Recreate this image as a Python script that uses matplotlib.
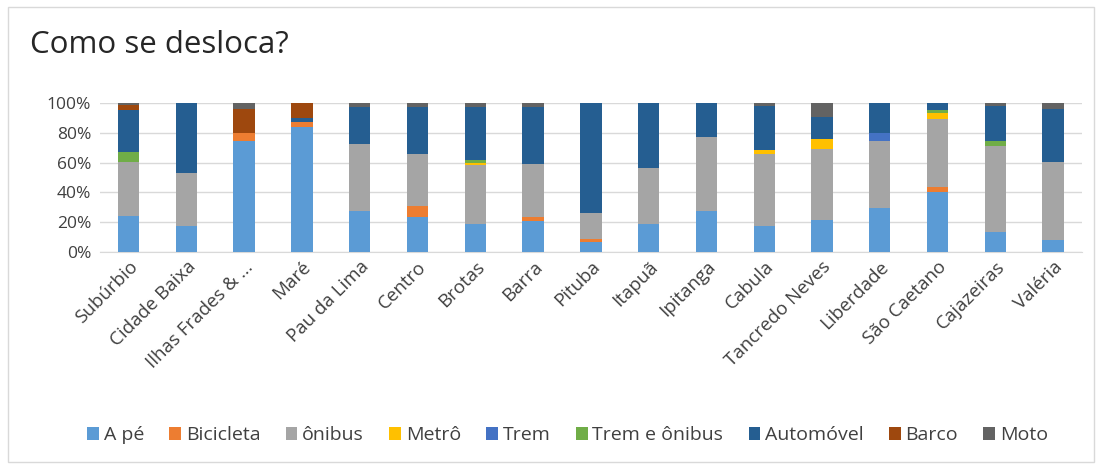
import matplotlib.pyplot as plt
from matplotlib.patches import Rectangle
import numpy as np

plt.rcParams['font.family'] = ['Open Sans', 'DejaVu Sans']

bairros = ['Subúrbio', 'Cidade Baixa', 'Ilhas Frades & ...', 'Maré', 'Pau da Lima',
           'Centro', 'Brotas', 'Barra', 'Pituba', 'Itapuã', 'Ipitanga', 'Cabula',
           'Tancredo Neves', 'Liberdade', 'São Caetano', 'Cajazeiras', 'Valéria']

# percentuais por modo de deslocamento
a_pe        = [24, 17.6, 74.6, 83.5, 27.8, 23.8, 18.7, 21.2, 7.1, 18.9, 27.8, 17.8, 21.6, 29.4, 40.5, 13.4, 8.2]
bicicleta   = [0, 0, 5.4, 3.3, 0, 6.9, 0, 2.6, 1.8, 0, 0, 0, 0, 0, 2.9, 0, 0]
onibus      = [36.4, 35.2, 0, 0, 44.4, 35.0, 39.7, 35.2, 17.6, 37.7, 49.5, 47.7, 47.7, 45.2, 45.5, 57.6, 52.4]
metro       = [0, 0, 0, 0, 0, 0, 1.5, 0, 0, 0, 0, 2.7, 6.7, 0, 4.0, 0, 0]
trem        = [0, 0, 0, 0, 0, 0, 0, 0, 0, 0, 0, 0, 0, 5.4, 0, 0, 0]
trem_onibus = [6.6, 0, 0, 0, 0, 0, 1.5, 0, 0, 0, 0, 0, 0, 0, 2.2, 3.6, 0]
automovel   = [28.2, 47.2, 0, 3.3, 25.1, 31.6, 35.9, 38.3, 73.5, 43.4, 22.7, 29.6, 14.6, 20.0, 4.9, 23.2, 34.9]
barco       = [3.0, 0, 15.5, 9.9, 0, 0, 0, 0, 0, 0, 0, 0, 0, 0, 0, 0, 0]
moto        = [1.8, 0, 4.5, 0, 2.7, 2.7, 2.7, 2.7, 0, 0, 0, 2.2, 9.4, 0, 0, 2.2, 4.5]

modos = ['A pé', 'Bicicleta', 'ônibus', 'Metrô', 'Trem', 'Trem e ônibus', 'Automóvel', 'Barco', 'Moto']
series = [a_pe, bicicleta, onibus, metro, trem, trem_onibus, automovel, barco, moto]
cores = ['#5B9BD5', '#ED7D31', '#A5A5A5', '#FFC000', '#4472C4', '#70AD47', '#255E91', '#9E480E', '#636363']

fig = plt.figure(figsize=(11.02, 4.69), dpi=100)
ax = fig.add_axes([0.0904, 0.462, 0.8915, 0.319])

x = np.arange(len(bairros))
base = np.zeros(len(bairros))
for nome, vals, cor in zip(modos, series, cores):
    vals = np.array(vals, dtype=float)
    ax.bar(x, vals, width=0.37, bottom=base, color=cor, label=nome, zorder=3)
    base += vals

ax.set_xlim(-0.5, len(bairros) - 0.5)
ax.set_ylim(0, 100)
ax.set_yticks(np.arange(0, 101, 20))
ax.set_yticklabels([f'{v}%' for v in range(0, 101, 20)], fontsize=12.5, color='#404040')
ax.set_xticks(x)
ax.set_xticklabels(bairros, rotation=45, ha='right', rotation_mode='anchor', fontsize=13.5, color='#404040')
ax.tick_params(axis='y', length=0, pad=6)
ax.tick_params(axis='x', length=0, pad=4)
ax.grid(axis='y', color='#D9D9D9', linewidth=1, zorder=0)
for s in ['top', 'right', 'left']:
    ax.spines[s].set_visible(False)
ax.spines['bottom'].set_color('#D9D9D9')

fig.text(0.027, 0.905, 'Como se desloca?', fontsize=22.5, color='#262626', va='center', ha='left')

fig.legend(loc='center', bbox_to_anchor=(0.515, 0.072), ncol=9, frameon=False,
           fontsize=14, handlelength=0.6, handleheight=0.6, handletextpad=0.25,
           columnspacing=1.3, labelcolor='#404040')

fig.patches.append(Rectangle((0.007, 0.015), 0.986, 0.97, transform=fig.transFigure,
                             fill=False, edgecolor='#D9D9D9', linewidth=1))

plt.savefig('out.png', dpi=100)
